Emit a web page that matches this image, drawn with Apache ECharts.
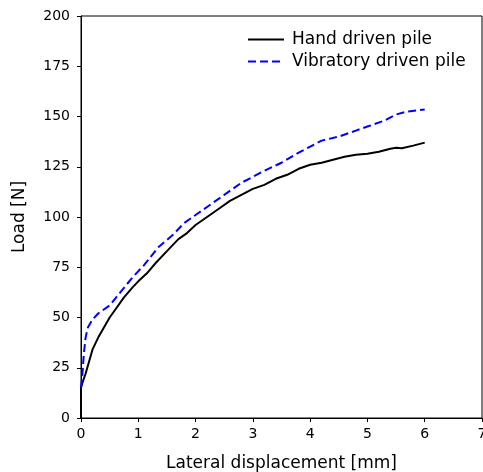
<!DOCTYPE html>
<html lang="en" style="height: 100%">
<head>
    <meta charset="utf-8">
    <title>Load vs lateral displacement</title>
    <style>
        body { margin: 0; height: 100%; background: #fff; }
        #chart { width: 483px; height: 472px; }
    </style>
</head>
<body>
<div id="chart"></div>
<script src="https://cdn.jsdelivr.net/npm/echarts@6/dist/echarts.min.js"></script>
<script>
    // hand driven pile
    const handX = [0, 0, 0.03, 0.08, 0.13, 0.2, 0.3, 0.4, 0.5, 0.6, 0.75, 0.9, 1.0, 1.15, 1.3, 1.5, 1.7, 1.85, 2.0, 2.2, 2.4, 2.6, 2.8, 3.0, 3.2, 3.4, 3.6, 3.8, 4.0, 4.2, 4.4, 4.6, 4.8, 5.0, 5.2, 5.4, 5.5, 5.6, 5.8, 6.0];
    const handY = [0, 15, 18, 22, 27, 34, 40, 45, 50, 54, 60, 65, 68, 72, 77, 83, 89, 92, 96, 100, 104, 108, 111, 114, 116, 119, 121, 124, 126, 127, 128.5, 130, 131, 131.5, 132.5, 134, 134.5, 134.2, 135.5, 137];

    // vibratory driven pile
    const vibX = [0, 0.02, 0.05, 0.08, 0.12, 0.2, 0.3, 0.5, 0.7, 0.9, 1.1, 1.35, 1.6, 1.8, 2.0, 2.2, 2.5, 2.8, 3.0, 3.2, 3.5, 3.8, 4.0, 4.2, 4.5, 4.8, 5.0, 5.3, 5.5, 5.7, 6.0];
    const vibY = [15, 20, 32, 40, 45, 49, 52, 56, 63, 70, 76, 85, 91, 97, 101, 105, 111, 117, 120, 123, 127, 132, 135, 138, 140, 143, 145, 148, 151, 152.5, 153.5];

    const seriesNames = ['Hand driven pile', 'Vibratory driven pile'];

    const zip = (xs, ys) => xs.map((x, i) => [x, ys[i]]);
    const font = 'DejaVu Sans';

    const chart = echarts.init(document.getElementById('chart'));
    chart.setOption({
        animation: false,
        textStyle: { fontFamily: font },
        grid: { left: 81, top: 16, right: 1, bottom: 54, outerBoundsMode: 'none', containLabel: false },
        legend: {
            orient: 'vertical',
            left: 242,
            top: 26,
            itemWidth: 36,
            itemHeight: 10,
            itemGap: 5,
            itemStyle: { opacity: 0 },
            textStyle: { fontFamily: font, fontSize: 17, color: '#000', padding: [0, 0, 0, 3] },
            data: seriesNames
        },
        xAxis: {
            type: 'value',
            min: 0, max: 7, interval: 1,
            name: 'Lateral displacement [mm]',
            nameLocation: 'middle',
            nameGap: 37,
            nameTextStyle: { fontFamily: font, fontSize: 17, color: '#000' },
            axisLine: { onZero: false, lineStyle: { color: '#000', width: 1 } },
            axisTick: { length: 4, lineStyle: { color: '#000' } },
            axisLabel: { fontFamily: font, fontSize: 14, color: '#000', margin: 9 },
            splitLine: { show: false }
        },
        yAxis: {
            type: 'value',
            min: 0, max: 200, interval: 25,
            name: 'Load [N]',
            nameLocation: 'middle',
            nameGap: 53,
            nameTextStyle: { fontFamily: font, fontSize: 17, color: '#000' },
            axisLine: { show: true, lineStyle: { color: '#000', width: 1 } },
            axisTick: { show: true, length: 4, lineStyle: { color: '#000' } },
            axisLabel: { fontFamily: font, fontSize: 14, color: '#000', margin: 11 },
            splitLine: { show: false }
        },
        series: [
            {
                name: seriesNames[0],
                type: 'line',
                symbol: 'none',
                data: zip(handX, handY),
                lineStyle: { color: '#000', width: 2 },
                itemStyle: { color: '#000' }
            },
            {
                name: seriesNames[1],
                type: 'line',
                symbol: 'none',
                data: zip(vibX, vibY),
                lineStyle: { color: '#0000ff', width: 2, type: [8, 4] },
                itemStyle: { color: '#0000ff' }
            }
        ],
        graphic: [{
            type: 'rect',
            shape: { x: 81, y: 16, width: 401, height: 402 },
            style: { fill: 'none', stroke: '#000', lineWidth: 1 },
            silent: true
        }]
    });
</script>
</body>
</html>
